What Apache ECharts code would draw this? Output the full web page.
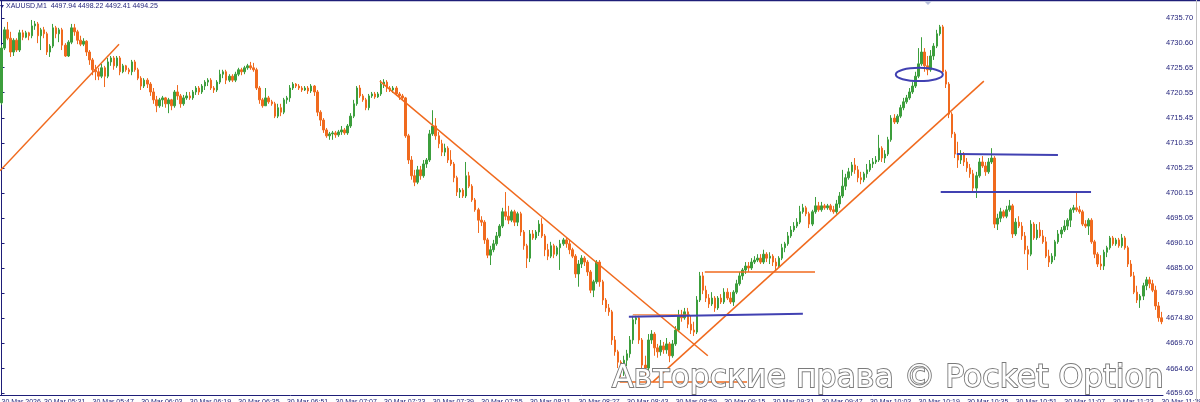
<!DOCTYPE html>
<html>
<head>
<meta charset="utf-8">
<title>XAUUSD,M1</title>
<script src="https://cdn.jsdelivr.net/npm/echarts@6.0.0/dist/echarts.min.js"></script>
<style>
  html, body { margin: 0; padding: 0; background: #ffffff; }
  #chart { width: 1200px; height: 402px; }
</style>
</head>
<body>
<div id="chart"></div>
<script>
  // M1 bars: [open, close, low, high]
  var bars = [
    [4718.5,4729.6,4718.1,4730.2],[4729.6,4733.3,4729.2,4733.9],[4733.3,4731.6,4731.2,4734.9],[4731.6,4728.8,4727.8,4732.9],
    [4728.8,4731.2,4728.0,4731.6],[4731.2,4729.2,4728.8,4731.6],[4729.2,4732.7,4728.8,4733.3],[4732.7,4731.8,4731.2,4733.3],
    [4731.8,4732.7,4731.6,4733.1],[4732.7,4732.1,4731.2,4732.9],[4732.1,4734.1,4731.6,4735.3],[4734.1,4734.5,4733.3,4735.1],
    [4734.5,4732.1,4730.6,4734.9],[4732.1,4733.3,4729.2,4733.7],[4733.3,4732.5,4731.6,4733.9],[4732.5,4728.8,4728.2,4732.9],
    [4728.8,4730.0,4727.8,4730.4],[4730.0,4733.7,4729.6,4734.5],[4733.7,4732.5,4731.6,4734.1],[4732.5,4733.3,4730.8,4733.7],
    [4733.3,4730.2,4729.2,4733.7],[4730.2,4728.0,4727.8,4730.6],[4728.0,4730.8,4727.8,4731.2],[4730.8,4733.7,4730.4,4734.5],
    [4733.7,4732.9,4732.1,4734.5],[4732.9,4731.2,4730.4,4733.3],[4731.2,4730.4,4730.0,4732.1],[4730.4,4731.0,4730.0,4731.6],
    [4731.0,4728.8,4728.0,4731.2],[4728.8,4727.2,4726.2,4729.2],[4727.2,4725.2,4724.1,4727.6],[4725.2,4724.8,4723.1,4726.2],
    [4724.8,4723.9,4723.1,4725.6],[4723.9,4725.6,4723.5,4726.4],[4725.6,4723.9,4721.7,4726.0],[4723.9,4726.8,4723.5,4727.6],
    [4726.8,4727.6,4726.0,4728.0],[4727.6,4726.0,4725.2,4728.0],[4726.0,4727.6,4725.6,4728.0],[4727.6,4724.8,4724.1,4728.0],
    [4724.8,4726.0,4724.5,4726.4],[4726.0,4725.2,4724.8,4726.2],[4725.2,4724.8,4724.3,4725.6],[4724.8,4726.8,4724.1,4727.2],
    [4726.8,4725.2,4724.8,4727.2],[4725.2,4723.5,4723.1,4725.6],[4723.5,4721.9,4721.1,4723.9],[4721.9,4723.1,4721.5,4723.5],
    [4723.1,4722.3,4721.5,4723.5],[4722.3,4720.7,4719.9,4722.7],[4720.7,4719.1,4718.3,4721.5],[4719.1,4717.9,4716.6,4719.9],
    [4717.9,4719.1,4717.5,4719.5],[4719.1,4719.5,4717.7,4719.9],[4719.5,4718.3,4717.5,4719.7],[4718.3,4719.1,4716.4,4719.5],
    [4719.1,4717.9,4717.0,4719.3],[4717.9,4720.7,4717.5,4721.1],[4720.7,4719.9,4719.1,4722.1],[4719.9,4718.3,4717.5,4720.3],
    [4718.3,4719.5,4717.9,4720.1],[4719.5,4719.9,4719.1,4720.7],[4719.9,4719.5,4719.1,4720.7],[4719.5,4720.7,4719.1,4721.1],
    [4720.7,4721.5,4720.1,4721.9],[4721.5,4720.7,4720.1,4721.9],[4720.7,4721.9,4720.3,4722.3],[4721.9,4722.7,4721.1,4723.1],
    [4722.7,4723.1,4721.9,4723.5],[4723.1,4721.5,4721.1,4723.5],[4721.5,4721.1,4720.5,4721.9],[4721.1,4722.7,4720.7,4723.1],
    [4722.7,4724.3,4722.3,4725.2],[4724.3,4724.8,4723.5,4725.2],[4724.8,4723.1,4722.3,4725.2],[4723.1,4723.9,4722.7,4724.3],
    [4723.9,4723.1,4722.7,4724.3],[4723.1,4724.3,4722.7,4724.8],[4724.3,4725.2,4723.9,4725.6],[4725.2,4724.8,4724.1,4725.6],
    [4724.8,4725.6,4724.3,4726.0],[4725.6,4726.0,4725.2,4726.4],[4726.0,4725.6,4725.2,4726.8],[4725.6,4725.2,4724.8,4726.6],
    [4725.2,4721.5,4721.1,4725.6],[4721.5,4719.1,4718.3,4721.9],[4719.1,4717.9,4717.5,4719.5],[4717.9,4719.5,4717.9,4721.5],
    [4719.5,4718.7,4718.3,4719.9],[4718.7,4718.3,4717.9,4719.1],[4718.3,4715.8,4715.4,4718.7],[4715.8,4717.5,4715.4,4718.3],
    [4717.5,4716.6,4715.8,4718.3],[4716.6,4719.1,4716.2,4719.5],[4719.1,4719.5,4718.3,4719.9],[4719.5,4721.5,4718.7,4722.1],
    [4721.5,4722.3,4721.1,4722.7],[4722.3,4721.9,4721.5,4722.5],[4721.9,4721.5,4721.1,4722.3],[4721.5,4721.1,4720.7,4721.9],
    [4721.1,4721.5,4720.9,4721.9],[4721.5,4720.9,4720.3,4721.9],[4720.9,4721.9,4720.5,4722.3],[4721.9,4720.7,4719.9,4722.1],
    [4720.7,4716.6,4715.8,4721.1],[4716.6,4715.0,4713.8,4717.0],[4715.0,4713.0,4712.4,4715.4],[4713.0,4711.8,4711.4,4713.4],
    [4711.8,4712.2,4711.0,4712.6],[4712.2,4712.4,4711.0,4712.8],[4712.4,4712.0,4711.4,4712.8],[4712.0,4712.6,4711.6,4713.0],
    [4712.6,4713.0,4712.0,4713.8],[4713.0,4712.4,4712.0,4713.4],[4712.4,4713.8,4712.0,4714.2],[4713.8,4715.8,4713.4,4716.4],
    [4715.8,4718.3,4715.4,4719.1],[4718.3,4721.5,4717.9,4721.9],[4721.5,4719.9,4719.5,4722.1],[4719.9,4719.1,4718.7,4720.3],
    [4719.1,4717.5,4717.0,4719.5],[4717.5,4719.9,4717.0,4720.3],[4719.9,4720.3,4719.5,4720.7],[4720.3,4719.7,4719.3,4720.7],
    [4719.7,4720.3,4719.5,4720.7],[4720.3,4722.3,4719.9,4723.1],[4722.3,4722.7,4721.5,4723.3],[4722.7,4721.5,4720.7,4723.1],
    [4721.5,4721.1,4720.7,4721.9],[4721.1,4721.5,4720.5,4721.9],[4721.5,4720.3,4719.9,4721.9],[4720.3,4719.9,4719.1,4720.7],
    [4719.9,4719.5,4719.1,4720.3],[4719.5,4711.8,4711.4,4719.7],[4711.8,4706.9,4706.1,4712.2],[4706.9,4703.7,4702.9,4707.7],
    [4703.7,4702.4,4701.6,4704.9],[4702.4,4704.9,4702.0,4705.7],[4704.9,4703.7,4702.9,4705.7],[4703.7,4706.1,4703.3,4706.9],
    [4706.1,4706.9,4705.3,4707.3],[4706.9,4712.2,4706.5,4713.0],[4712.2,4713.8,4711.8,4717.0],[4713.8,4711.8,4711.0,4715.4],
    [4711.8,4710.2,4709.3,4712.6],[4710.2,4708.5,4707.7,4711.0],[4708.5,4709.3,4707.7,4710.2],[4709.3,4706.9,4706.3,4709.7],
    [4706.9,4706.1,4705.7,4708.9],[4706.1,4703.3,4702.4,4706.5],[4703.3,4700.4,4699.6,4703.7],[4700.4,4700.8,4699.2,4701.2],
    [4700.8,4699.6,4699.2,4701.2],[4699.6,4703.7,4699.2,4706.5],[4703.7,4701.6,4701.2,4704.5],[4701.6,4698.8,4698.4,4702.0],
    [4698.8,4696.8,4696.4,4699.2],[4696.8,4694.7,4692.1,4697.2],[4694.7,4694.3,4693.5,4695.5],[4694.3,4690.7,4689.9,4694.7],
    [4690.7,4687.6,4687.0,4691.1],[4687.6,4688.7,4685.6,4689.5],[4688.7,4689.9,4688.2,4690.7],[4689.9,4691.5,4689.5,4692.3],
    [4691.5,4693.5,4691.1,4693.9],[4693.5,4696.4,4693.1,4697.2],[4696.4,4695.5,4694.7,4700.4],[4695.5,4694.7,4693.9,4697.6],
    [4694.7,4696.4,4694.3,4696.8],[4696.4,4694.3,4693.5,4696.8],[4694.3,4696.0,4693.5,4696.4],[4696.0,4692.3,4691.5,4696.4],
    [4692.3,4689.5,4688.7,4692.7],[4689.5,4687.0,4685.0,4689.9],[4687.0,4691.9,4686.2,4692.7],[4691.9,4691.1,4690.7,4692.7],
    [4691.1,4692.3,4690.7,4692.7],[4692.3,4693.9,4691.5,4694.7],[4693.9,4691.5,4691.1,4695.1],[4691.5,4688.7,4687.4,4691.9],
    [4688.7,4687.4,4686.6,4689.9],[4687.4,4689.5,4687.0,4690.3],[4689.5,4687.8,4687.0,4689.9],[4687.8,4689.1,4687.4,4689.5],
    [4689.1,4689.9,4684.6,4690.7],[4689.9,4690.7,4689.5,4691.1],[4690.7,4689.9,4689.1,4691.1],[4689.9,4688.7,4687.8,4690.7],
    [4688.7,4687.4,4687.0,4689.1],[4687.4,4683.8,4683.0,4687.8],[4683.8,4685.8,4681.2,4686.6],[4685.8,4687.0,4685.0,4687.6],
    [4687.0,4686.2,4685.4,4687.4],[4686.2,4684.2,4683.4,4686.6],[4684.2,4680.5,4679.9,4684.6],[4680.5,4682.2,4679.1,4682.6],
    [4682.2,4686.2,4681.8,4686.6],[4686.2,4682.2,4681.2,4686.6],[4682.2,4678.5,4677.5,4682.6],[4678.5,4676.9,4676.1,4678.9],
    [4676.9,4676.1,4675.3,4677.7],[4676.1,4670.4,4669.4,4676.5],[4670.4,4668.0,4667.2,4671.2],[4668.0,4665.9,4664.7,4668.4],
    [4665.9,4663.9,4662.9,4666.3],[4663.9,4666.3,4663.1,4667.2],[4666.3,4667.6,4665.1,4668.4],[4667.6,4670.4,4666.8,4671.2],
    [4670.4,4674.5,4669.6,4675.3],[4674.5,4674.9,4673.6,4675.3],[4674.9,4670.4,4669.6,4675.3],[4670.4,4665.3,4664.3,4670.8],
    [4665.3,4664.7,4662.3,4667.2],[4664.7,4670.4,4664.3,4671.6],[4670.4,4671.6,4669.6,4672.4],[4671.6,4668.8,4667.2,4672.0],
    [4668.8,4668.0,4666.8,4669.6],[4668.0,4669.2,4667.2,4670.4],[4669.2,4668.4,4667.6,4670.0],[4668.4,4669.6,4667.6,4670.8],
    [4669.6,4667.2,4665.9,4670.0],[4667.2,4669.6,4666.8,4670.4],[4669.6,4672.4,4669.2,4673.2],[4672.4,4675.3,4672.0,4676.5],
    [4675.3,4674.9,4674.1,4676.5],[4674.9,4676.1,4674.5,4676.9],[4676.1,4673.6,4672.8,4676.9],[4673.6,4672.4,4671.6,4675.3],
    [4672.4,4672.0,4671.2,4674.1],[4672.0,4678.5,4671.6,4679.3],[4678.5,4683.4,4678.1,4684.2],[4683.4,4680.5,4679.7,4684.2],
    [4680.5,4678.9,4678.1,4681.4],[4678.9,4677.7,4676.9,4679.7],[4677.7,4678.9,4677.3,4680.1],[4678.9,4676.9,4676.1,4679.3],
    [4676.9,4678.9,4676.5,4679.3],[4678.9,4678.1,4677.7,4679.7],[4678.1,4680.1,4677.7,4680.9],[4680.1,4678.9,4678.5,4680.9],
    [4678.9,4678.1,4677.7,4680.1],[4678.1,4680.1,4677.3,4680.5],[4680.1,4681.8,4679.7,4682.6],[4681.8,4683.4,4681.4,4684.2],
    [4683.4,4684.6,4682.6,4685.0],[4684.6,4685.4,4683.8,4686.2],[4685.4,4685.0,4684.2,4686.2],[4685.0,4686.2,4684.6,4687.0],
    [4686.2,4686.6,4685.8,4687.4],[4686.6,4687.0,4686.2,4687.8],[4687.0,4686.2,4685.8,4687.8],[4686.2,4687.8,4685.8,4688.7],
    [4687.8,4687.0,4686.2,4688.2],[4687.0,4687.4,4685.8,4688.2],[4687.4,4686.2,4685.4,4687.8],[4686.2,4685.4,4684.6,4687.0],
    [4685.4,4687.0,4685.0,4687.4],[4687.0,4689.1,4686.6,4689.9],[4689.1,4689.9,4688.2,4690.3],[4689.9,4691.5,4689.5,4692.3],
    [4691.5,4692.7,4691.1,4693.5],[4692.7,4693.5,4692.3,4694.3],[4693.5,4694.3,4693.1,4695.1],[4694.3,4696.4,4693.9,4697.6],
    [4696.4,4697.2,4696.0,4698.0],[4697.2,4696.0,4695.5,4697.6],[4696.0,4693.9,4693.1,4696.4],[4693.9,4696.4,4693.5,4696.8],
    [4696.4,4697.6,4696.0,4699.4],[4697.6,4696.8,4696.4,4698.4],[4696.8,4697.6,4696.4,4698.4],[4697.6,4697.2,4696.8,4698.0],
    [4697.2,4697.6,4696.8,4698.0],[4697.6,4696.8,4696.4,4698.0],[4696.8,4696.4,4696.0,4697.6],[4696.4,4698.0,4696.0,4698.8],
    [4698.0,4699.6,4697.2,4700.4],[4699.6,4701.6,4699.2,4704.9],[4701.6,4703.3,4700.8,4704.1],[4703.3,4704.5,4702.9,4705.3],
    [4704.5,4705.9,4703.7,4706.5],[4705.9,4704.9,4704.1,4707.3],[4704.9,4703.3,4702.4,4705.7],[4703.3,4702.9,4702.0,4704.5],
    [4702.9,4704.1,4702.4,4704.5],[4704.1,4704.9,4703.3,4706.1],[4704.9,4706.1,4704.5,4706.9],[4706.1,4706.5,4705.3,4707.3],
    [4706.5,4706.9,4706.1,4707.7],[4706.9,4709.3,4706.5,4712.0],[4709.3,4707.3,4706.5,4709.7],[4707.3,4708.1,4706.3,4708.9],
    [4708.1,4711.0,4707.7,4711.6],[4711.0,4715.4,4710.6,4716.0],[4715.4,4714.6,4714.2,4716.2],[4714.6,4715.8,4714.2,4716.2],
    [4715.8,4717.5,4715.4,4718.1],[4717.5,4718.7,4717.0,4719.5],[4718.7,4719.5,4718.3,4720.1],[4719.5,4720.7,4719.1,4721.5],
    [4720.7,4721.9,4720.3,4722.7],[4721.9,4723.9,4721.5,4724.8],[4723.9,4726.4,4723.5,4729.6],[4726.4,4728.8,4726.0,4731.8],
    [4728.8,4726.0,4724.8,4729.6],[4726.0,4725.2,4724.1,4728.0],[4725.2,4728.0,4724.8,4729.2],[4728.0,4730.0,4727.2,4730.6],
    [4730.0,4732.5,4729.6,4733.3],[4732.5,4733.9,4732.1,4734.3],[4733.9,4724.8,4724.3,4734.3],[4724.8,4722.3,4721.5,4725.2],
    [4722.3,4716.2,4715.4,4722.7],[4716.2,4712.2,4711.4,4716.6],[4712.2,4708.1,4707.3,4712.6],[4708.1,4706.9,4705.3,4710.6],
    [4706.9,4708.1,4706.1,4708.9],[4708.1,4706.5,4705.7,4708.5],[4706.5,4705.3,4704.5,4707.3],[4705.3,4704.1,4703.3,4706.1],
    [4704.1,4701.2,4700.4,4704.9],[4701.2,4703.7,4699.2,4704.5],[4703.7,4706.5,4703.3,4707.3],[4706.5,4705.7,4705.3,4707.7],
    [4705.7,4704.5,4703.7,4706.5],[4704.5,4706.5,4704.1,4707.3],[4706.5,4707.3,4706.1,4709.3],[4707.3,4693.9,4693.1,4707.7],
    [4693.9,4695.1,4692.7,4696.0],[4695.1,4696.4,4694.3,4697.2],[4696.4,4695.5,4695.1,4696.8],[4695.5,4696.8,4695.1,4697.6],
    [4696.8,4697.6,4696.4,4698.8],[4697.6,4691.9,4691.1,4698.0],[4691.9,4694.3,4691.5,4695.1],[4694.3,4693.5,4693.1,4695.5],
    [4693.5,4691.5,4690.7,4694.3],[4691.5,4688.7,4687.8,4692.3],[4688.7,4687.8,4684.6,4689.5],[4687.8,4693.9,4687.4,4694.7],
    [4693.9,4691.1,4690.7,4694.3],[4691.1,4692.7,4690.7,4693.9],[4692.7,4691.5,4691.1,4694.3],[4691.5,4690.3,4689.9,4692.7],
    [4690.3,4687.4,4687.0,4691.3],[4687.4,4686.2,4685.2,4688.7],[4686.2,4687.4,4685.8,4688.0],[4687.4,4690.3,4686.6,4690.7],
    [4690.3,4691.9,4689.9,4692.7],[4691.9,4692.7,4691.1,4693.3],[4692.7,4693.5,4692.3,4694.7],[4693.5,4694.7,4692.7,4695.1],
    [4694.7,4696.8,4693.3,4697.2],[4696.8,4697.2,4696.2,4697.8],[4697.2,4696.8,4696.4,4700.2],[4696.8,4696.4,4696.0,4697.6],
    [4696.4,4693.9,4693.5,4696.8],[4693.9,4693.5,4693.1,4694.7],[4693.5,4694.7,4691.7,4695.1],[4694.7,4690.3,4689.9,4695.1],
    [4690.3,4687.8,4687.0,4690.7],[4687.8,4685.8,4685.2,4688.2],[4685.8,4685.4,4684.6,4687.6],[4685.4,4688.2,4684.6,4688.7],
    [4688.2,4689.1,4687.2,4689.5],[4689.1,4691.1,4688.7,4691.5],[4691.1,4689.9,4689.5,4691.5],[4689.9,4690.7,4689.5,4691.1],
    [4690.7,4689.5,4689.1,4691.1],[4689.5,4691.1,4689.1,4691.9],[4691.1,4689.1,4688.7,4691.5],[4689.1,4685.8,4685.2,4689.5],
    [4685.8,4683.4,4683.2,4686.6],[4683.4,4680.1,4679.7,4684.2],[4680.1,4678.5,4677.9,4681.4],[4678.5,4679.3,4676.9,4679.7],
    [4679.3,4681.4,4678.5,4682.0],[4681.4,4682.6,4680.5,4683.2],[4682.6,4681.8,4680.9,4683.2],[4681.8,4680.5,4680.1,4682.6],
    [4680.5,4677.3,4676.5,4681.4],[4677.3,4674.9,4674.1,4678.1],[4674.9,4674.1,4673.6,4676.1]
  ];

  var xTicks = [
    '30 Mar 2026', '30 Mar 05:31', '30 Mar 05:47', '30 Mar 06:03', '30 Mar 06:19', '30 Mar 06:35',
    '30 Mar 06:51', '30 Mar 07:07', '30 Mar 07:23', '30 Mar 07:39', '30 Mar 07:55', '30 Mar 08:11',
    '30 Mar 08:27', '30 Mar 08:43', '30 Mar 08:59', '30 Mar 09:15', '30 Mar 09:31', '30 Mar 09:47',
    '30 Mar 10:03', '30 Mar 10:19', '30 Mar 10:35', '30 Mar 10:51', '30 Mar 11:07', '30 Mar 11:23', '30 Mar 11:39'
  ];
  var yTicks = [4659.65, 4664.60, 4669.70, 4674.80, 4679.90, 4685.00, 4690.10, 4695.05,
                4700.15, 4705.25, 4710.35, 4715.45, 4720.55, 4725.65, 4730.60, 4735.70];

  // drawn objects: [bar index, price]
  var trendUpLeft = [[-0.5, 4704.7], [38.7, 4730.4]];
  var trendDown = [[124.6, 4722.9], [232.6, 4667.2]];
  var trendUp = [[214.5, 4661.9], [323.5, 4722.9]];
  var levelLow = [[203.6, 4661.9], [245.5, 4661.9]];
  var levelMid = [[231.6, 4684.2], [267.9, 4684.2]];
  var levelThin = [[207.9, 4675.5], [226.7, 4675.5]];
  var blueMid = [[206.6, 4675.1], [263.9, 4675.7]];
  var blueTop = [[314.6, 4708.1], [347.9, 4707.9]];
  var blueBottom = [[309.3, 4700.4], [358.8, 4700.4]];
  var ellipseBox = [[294.5, 4725.6], [310.0, 4722.9]];

  var GREEN = '#3c9e3c';
  var ORANGE = '#f06a1e';
  var NAVY = '#1e1e78';
  var BLUE = '#4141b2';

  function pad(n) { return n < 10 ? '0' + n : '' + n; }
  var startMin = 5 * 60 + 17;
  var times = bars.map(function (b, i) {
    var m = startMin + i;
    return pad(Math.floor(m / 60)) + ':' + pad(m % 60);
  });
  function isTick(index, value) {
    return index === 0 || xTicks.indexOf('30 Mar ' + value) >= 0;
  }

  function drawn(data, color, width) {
    return {
      type: 'line', xAxisIndex: 1, yAxisIndex: 0, data: data,
      symbol: 'none', silent: true, z: 5,
      lineStyle: {color: color, width: width}
    };
  }

  var chart = echarts.init(document.getElementById('chart'));
  chart.setOption({
    animation: false,
    backgroundColor: '#ffffff',
    grid: {left: 0, right: 37, top: 1, bottom: 7, containLabel: false, outerBoundsMode: 'none'},
    xAxis: [
      {
        type: 'category',
        data: times,
        boundaryGap: true,
        axisLine: {lineStyle: {color: NAVY, width: 1}},
        axisTick: {interval: isTick, alignWithLabel: true, length: 3, lineStyle: {color: NAVY}},
        axisLabel: {
          interval: isTick, align: 'left', margin: 4,
          color: NAVY, fontSize: 7, fontFamily: 'Liberation Sans',
          formatter: function (v, i) { return i === 0 ? xTicks[0] : '30 Mar ' + v; }
        },
        splitLine: {show: false}
      },
      {type: 'value', min: -0.5, max: bars.length - 0.5, show: false}
    ],
    yAxis: {
      type: 'value',
      position: 'right',
      min: 4659.24,
      max: 4739.15,
      scale: true,
      axisLine: {show: true, lineStyle: {color: NAVY, width: 1}},
      axisTick: {show: true, length: 3, customValues: yTicks, lineStyle: {color: NAVY}},
      axisLabel: {
        customValues: yTicks, margin: 3, color: NAVY, fontSize: 7.5, fontFamily: 'Liberation Sans',
        formatter: function (v) { return v.toFixed(2); }
      },
      splitLine: {show: false}
    },
    series: [
      {
        type: 'candlestick',
        data: bars,
        barWidth: 2,
        itemStyle: {color: GREEN, color0: ORANGE, borderColor: GREEN, borderColor0: ORANGE, borderWidth: 1}
      },
      drawn(trendUpLeft, ORANGE, 1.5),
      drawn(trendDown, ORANGE, 1.5),
      drawn(trendUp, ORANGE, 1.5),
      drawn(levelLow, ORANGE, 1.5),
      drawn(levelMid, ORANGE, 1.5),
      drawn(levelThin, ORANGE, 1),
      drawn(blueMid, BLUE, 2),
      drawn(blueTop, BLUE, 2),
      drawn(blueBottom, BLUE, 2)
    ]
  });

  var a = chart.convertToPixel({xAxisIndex: 1, yAxisIndex: 0}, ellipseBox[0]);
  var b = chart.convertToPixel({xAxisIndex: 1, yAxisIndex: 0}, ellipseBox[1]);

  chart.setOption({
    graphic: [
      {type: 'line', shape: {x1: 0, y1: 0.5, x2: 1200, y2: 0.5}, style: {stroke: NAVY, lineWidth: 1.5}, z: 20},
      {type: 'line', shape: {x1: 1196.5, y1: 0, x2: 1196.5, y2: 402}, style: {stroke: '#c4c4c4', lineWidth: 1}, z: 20},
      {type: 'polygon', shape: {points: [[924, 1], [932, 1], [928, 5]]}, style: {fill: '#b8c0dc'}, z: 20},
      {type: 'polygon', shape: {points: [[0, 5], [4, 5], [2, 8]]}, style: {fill: NAVY}, z: 20},
      {
        type: 'text', x: 6, y: 6.5, z: 20,
        style: {
          text: 'XAUUSD,M1  4497.94 4498.22 4492.41 4494.25',
          fill: NAVY, font: '7px "Liberation Sans"', verticalAlign: 'middle'
        }
      },
      {
        type: 'ellipse', z: 15,
        shape: {cx: (a[0] + b[0]) / 2, cy: (a[1] + b[1]) / 2, rx: Math.abs(b[0] - a[0]) / 2, ry: Math.abs(b[1] - a[1]) / 2},
        style: {fill: 'none', stroke: BLUE, lineWidth: 2}
      },
      {
        type: 'text', x: 612, y: 379, z: 30,
        style: {
          text: 'Авторские права © Pocket Option',
          font: '31.5px "DejaVu Sans"', verticalAlign: 'middle',
          fill: '#ffffff', stroke: '#7a7a7a', lineWidth: 1.8
        }
      }
    ]
  });
</script>
</body>
</html>
